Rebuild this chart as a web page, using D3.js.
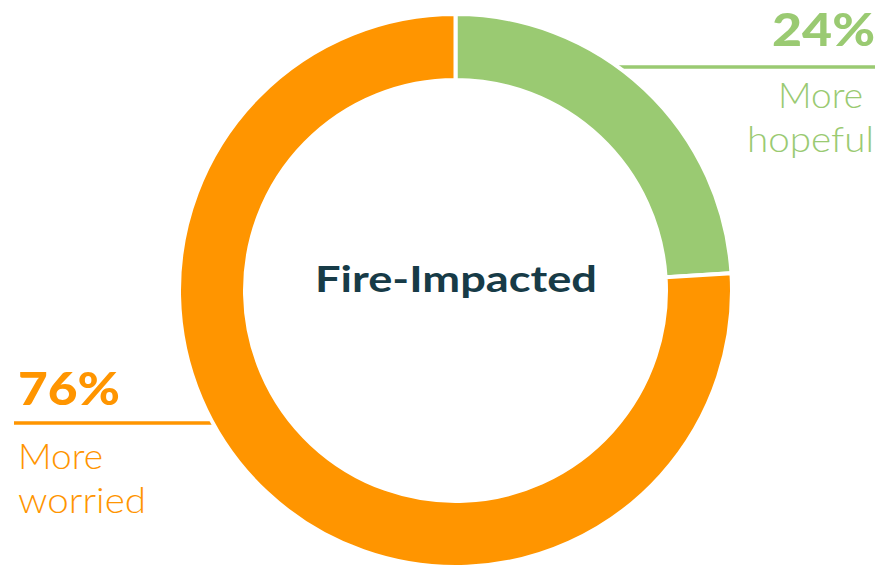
<!DOCTYPE html>
<html>
<head>
<meta charset="utf-8">
<script src="https://cdn.jsdelivr.net/npm/d3@7"></script>
<style>
  html, body { margin: 0; padding: 0; background: #fff; }
  svg { display: block; }
  text { font-family: Lato, "Noto Sans", sans-serif; }
</style>
</head>
<body>
<svg id="chart" width="882" height="569"></svg>
<script>
// Survey split for the fire-impacted group
const categories = ["More hopeful", "More worried"];
const values = [24, 76];
const percentLabels = ["24%", "76%"];
const labelLines = [["More", "hopeful"], ["More", "worried"]];
const colors = ["#9aca72", "#ff9500"];
const centerTitle = "Fire-Impacted";

const width = 882, height = 569;
const cx = 455.5, cy = 290.5;
const outerR = 276.5, innerR = 210.5;

const svg = d3.select("#chart");

const pie = d3.pie().sort(null).value(d => d)(values);
const arc = d3.arc().innerRadius(innerR).outerRadius(outerR);

// Leader rules sit behind the ring
const leaders = svg.append("g");
leaders.append("line")
  .attr("x1", cx + 120).attr("x2", 875)
  .attr("y1", 67).attr("y2", 67)
  .attr("stroke", colors[0]).attr("stroke-width", 3.5);
leaders.append("line")
  .attr("x1", 14).attr("x2", cx - 200)
  .attr("y1", 423).attr("y2", 423)
  .attr("stroke", colors[1]).attr("stroke-width", 3.5);

const ring = svg.append("g").attr("transform", `translate(${cx},${cy})`);
ring.selectAll("path")
  .data(pie)
  .join("path")
  .attr("d", arc)
  .attr("fill", (d, i) => colors[i])
  .attr("stroke", "#fff")
  .attr("stroke-width", 4)
  .attr("stroke-linejoin", "miter");

// Centre title
svg.append("text")
  .attr("x", 315).attr("y", 292)
  .attr("font-family", "'Noto Sans', Lato, sans-serif")
  .attr("font-size", 36)
  .attr("font-weight", 700)
  .attr("fill", "#173b47")
  .attr("textLength", 282)
  .attr("lengthAdjust", "spacingAndGlyphs")
  .text(centerTitle);

// Right-hand label block (hopeful)
const right = svg.append("g").attr("fill", colors[0]);
right.append("text")
  .attr("x", 772).attr("y", 46)
  .attr("font-size", 46).attr("font-weight", 900)
  .attr("textLength", 103).attr("lengthAdjust", "spacingAndGlyphs")
  .text(percentLabels[0]);
right.append("text")
  .attr("x", 778).attr("y", 108)
  .attr("font-size", 35).attr("font-weight", 300)
  .attr("textLength", 85).attr("lengthAdjust", "spacingAndGlyphs")
  .text(labelLines[0][0]);
right.append("text")
  .attr("x", 747).attr("y", 152)
  .attr("font-size", 35).attr("font-weight", 300)
  .attr("textLength", 127).attr("lengthAdjust", "spacingAndGlyphs")
  .text(labelLines[0][1]);

// Left-hand label block (worried)
const left = svg.append("g").attr("fill", colors[1]);
left.append("text")
  .attr("x", 18).attr("y", 405)
  .attr("font-size", 46).attr("font-weight", 900)
  .attr("textLength", 102).attr("lengthAdjust", "spacingAndGlyphs")
  .text(percentLabels[1]);
left.append("text")
  .attr("x", 18).attr("y", 469)
  .attr("font-size", 35).attr("font-weight", 300)
  .attr("textLength", 85).attr("lengthAdjust", "spacingAndGlyphs")
  .text(labelLines[1][0]);
left.append("text")
  .attr("x", 18).attr("y", 513)
  .attr("font-size", 35).attr("font-weight", 300)
  .attr("textLength", 128).attr("lengthAdjust", "spacingAndGlyphs")
  .text(labelLines[1][1]);
</script>
</body>
</html>
